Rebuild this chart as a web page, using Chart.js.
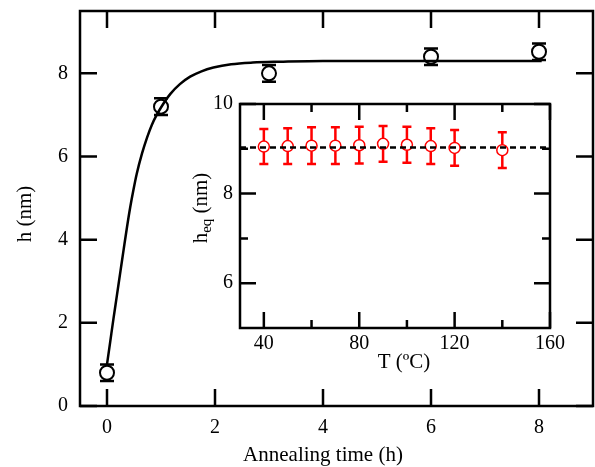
<!DOCTYPE html>
<html>
<head>
<meta charset="utf-8">
<script src="https://cdn.jsdelivr.net/npm/chart.js@4.4.0/dist/chart.umd.min.js"></script>
<style>
body { margin: 0; background: #fff; }
#wrap { position: relative; width: 595px; height: 467px; }
#main { position: absolute; left: 0; top: 0; }
#inset { position: absolute; left: 180px; top: 92px; }
</style>
</head>
<body>
<div id="wrap">
<canvas id="main" width="595" height="467"></canvas>
<canvas id="inset" width="400" height="288"></canvas>
</div>
<script>
// main panel: film height vs annealing time
const timeH = [0, 1, 3, 6, 8];
const heightNm = [0.8, 7.2, 8.0, 8.4, 8.52];
const heightErr = [0.2, 0.2, 0.2, 0.2, 0.2];

// fitted curve, points
const fitT = [0, 0.06, 0.12, 0.18, 0.25, 0.31, 0.37, 0.43, 0.49, 0.55, 0.65, 0.74, 0.83, 0.92, 1.0, 1.17, 1.35, 1.54, 1.75, 1.97, 2.3, 2.7, 3.2, 4, 5, 6, 7, 8.05];
const fitH = [1.0, 1.55, 2.1, 2.63, 3.25, 3.78, 4.3, 4.78, 5.2, 5.58, 6.08, 6.45, 6.76, 7.0, 7.18, 7.5, 7.74, 7.92, 8.05, 8.14, 8.22, 8.26, 8.28, 8.3, 8.3, 8.3, 8.3, 8.3];

const timeTicks = [0, 2, 4, 6, 8];
const hTicks = [0, 2, 4, 6, 8];

// inset: equilibrium height vs temperature
const tempC = [40, 50, 60, 70, 80, 90, 100, 110, 120, 140];
const heq = [9.05, 9.06, 9.07, 9.07, 9.08, 9.11, 9.09, 9.06, 9.02, 8.97];
const heqErr = [0.39, 0.40, 0.41, 0.41, 0.41, 0.40, 0.40, 0.40, 0.40, 0.40];
const heqLevel = 9.03;

const tempTicks = [40, 80, 120, 160];
const tempMinor = [60, 100, 140];
const heqTicks = [6, 8, 10];
const heqMinor = [7, 9];

const serif = "'Liberation Serif', 'Times New Roman', serif";
Chart.defaults.font.family = serif;
Chart.defaults.color = '#000';

// box around the plot with inward ticks on all four sides
const framePlugin = {
    id: 'frame',
    afterDatasetsDraw(chart, args, o) {
        const ctx = chart.ctx, a = chart.chartArea;
        const x = chart.scales.x, y = chart.scales.y;
        ctx.save();
        ctx.strokeStyle = '#000';
        ctx.lineWidth = o.width;
        ctx.beginPath();
        const xt = (vals, len) => vals.forEach(v => {
            const px = x.getPixelForValue(v);
            ctx.moveTo(px, a.bottom); ctx.lineTo(px, a.bottom - len);
            ctx.moveTo(px, a.top); ctx.lineTo(px, a.top + len);
        });
        const yt = (vals, len) => vals.forEach(v => {
            const py = y.getPixelForValue(v);
            ctx.moveTo(a.left, py); ctx.lineTo(a.left + len, py);
            ctx.moveTo(a.right, py); ctx.lineTo(a.right - len, py);
        });
        xt(o.xMajor, o.major);
        xt(o.xMinor || [], o.minor);
        yt(o.yMajor, o.major);
        yt(o.yMinor || [], o.minor);
        ctx.stroke();
        ctx.strokeRect(a.left, a.top, a.right - a.left, a.bottom - a.top);
        ctx.restore();
    }
};

// vertical error bars with caps, starting at the circle edge
const errPlugin = {
    id: 'errBars',
    afterDatasetsDraw(chart) {
        const ctx = chart.ctx, x = chart.scales.x, y = chart.scales.y;
        chart.data.datasets.forEach(ds => {
            if (!ds.errors) return;
            ctx.save();
            ctx.strokeStyle = ds.borderColor;
            ctx.lineWidth = ds.errWidth;
            ctx.beginPath();
            ds.data.forEach((p, i) => {
                const px = x.getPixelForValue(p.x);
                const pc = y.getPixelForValue(p.y);
                const pt = y.getPixelForValue(p.y + ds.errors[i]);
                const pb = y.getPixelForValue(p.y - ds.errors[i]);
                const r = ds.pointRadius;
                if (pc - r > pt) { ctx.moveTo(px, pc - r); ctx.lineTo(px, pt); }
                if (pc + r < pb) { ctx.moveTo(px, pc + r); ctx.lineTo(px, pb); }
                ctx.moveTo(px - ds.errCap, pt); ctx.lineTo(px + ds.errCap, pt);
                ctx.moveTo(px - ds.errCap, pb); ctx.lineTo(px + ds.errCap, pb);
            });
            ctx.stroke();
            ctx.restore();
        });
    }
};

// main axis titles, placed where the figure has them
const mainTitles = {
    id: 'mainTitles',
    afterDraw(chart) {
        const ctx = chart.ctx;
        ctx.save();
        ctx.fillStyle = '#000';
        ctx.font = '21px ' + serif;
        ctx.textAlign = 'center';
        ctx.textBaseline = 'middle';
        ctx.fillText('Annealing time (h)', 323, 455);
        ctx.translate(25, 214);
        ctx.rotate(-Math.PI / 2);
        ctx.fillText('h (nm)', 0, 0);
        ctx.restore();
    }
};

// inset axis titles (y one has a subscript)
const insetTitles = {
    id: 'insetTitles',
    afterDraw(chart) {
        const ctx = chart.ctx;
        const big = '21px ' + serif, small = '15px ' + serif;
        ctx.save();
        ctx.fillStyle = '#000';
        ctx.textBaseline = 'middle';
        ctx.textAlign = 'center';
        ctx.font = big;
        ctx.fillText('T (ºC)', 224, 270);

        ctx.textAlign = 'left';
        ctx.textBaseline = 'alphabetic';
        const w1 = ctx.measureText('h').width;
        const w3 = ctx.measureText(' (nm)').width;
        ctx.font = small;
        const w2 = ctx.measureText('eq').width;
        const total = w1 + w2 + w3;
        ctx.translate(27, 116 + total / 2);
        ctx.rotate(-Math.PI / 2);
        ctx.font = big;
        ctx.fillText('h', 0, 0);
        ctx.font = small;
        ctx.fillText('eq', w1, 4);
        ctx.font = big;
        ctx.fillText(' (nm)', w1 + w2, 0);
        ctx.restore();
    }
};

function fit(size, horizontal) {
    return s => {
        if (horizontal) s.height = size; else s.width = size;
        s.paddingLeft = 0; s.paddingRight = 0;
        s.paddingTop = 0; s.paddingBottom = 0;
    };
}

function setTicks(vals) {
    return s => { s.ticks = vals.map(v => ({ value: v })); };
}

new Chart(document.getElementById('main'), {
    type: 'scatter',
    data: {
        datasets: [
            {
                type: 'line',
                data: fitT.map((t, i) => ({ x: t, y: fitH[i] })),
                borderColor: '#000',
                borderWidth: 2.5,
                pointRadius: 0,
                cubicInterpolationMode: 'monotone',
                fill: false
            },
            {
                data: timeH.map((t, i) => ({ x: t, y: heightNm[i] })),
                errors: heightErr,
                errCap: 7,
                errWidth: 2.5,
                pointRadius: 7,
                borderWidth: 2,
                borderColor: '#000',
                backgroundColor: 'rgba(0,0,0,0)'
            }
        ]
    },
    options: {
        responsive: false,
        animation: false,
        layout: { autoPadding: false, padding: { left: 0, top: 11, right: 2, bottom: 0 } },
        plugins: {
            legend: { display: false },
            tooltip: { enabled: false },
            frame: { xMajor: timeTicks, yMajor: hTicks, major: 17, minor: 9, width: 2.5 }
        },
        scales: {
            x: {
                type: 'linear',
                min: -0.5,
                max: 9,
                grid: { display: false, drawTicks: false },
                border: { display: false },
                ticks: { padding: 10, font: { size: 20 } },
                afterBuildTicks: setTicks(timeTicks),
                afterFit: fit(61, true)
            },
            y: {
                min: 0,
                max: 9.5,
                grid: { display: false, drawTicks: false },
                border: { display: false },
                ticks: { padding: 12, font: { size: 20 } },
                afterBuildTicks: setTicks(hTicks),
                afterFit: fit(80, false)
            }
        }
    },
    plugins: [framePlugin, errPlugin, mainTitles]
});

new Chart(document.getElementById('inset'), {
    type: 'scatter',
    data: {
        datasets: [
            {
                type: 'line',
                data: [{ x: 30, y: heqLevel }, { x: 160, y: heqLevel }],
                borderColor: '#000',
                borderWidth: 2.5,
                borderDash: [6, 4],
                pointRadius: 0,
                fill: false
            },
            {
                data: tempC.map((t, i) => ({ x: t, y: heq[i] })),
                errors: heqErr,
                errCap: 4.5,
                errWidth: 2.5,
                pointRadius: 5.5,
                borderWidth: 1.5,
                borderColor: '#ff0000',
                backgroundColor: 'rgba(0,0,0,0)'
            }
        ]
    },
    options: {
        responsive: false,
        animation: false,
        layout: { autoPadding: false, padding: { left: 0, top: 12, right: 30, bottom: 0 } },
        plugins: {
            legend: { display: false },
            tooltip: { enabled: false },
            frame: {
                xMajor: tempTicks, xMinor: tempMinor,
                yMajor: heqTicks, yMinor: heqMinor,
                major: 16, minor: 8, width: 2.5
            }
        },
        scales: {
            x: {
                type: 'linear',
                min: 30,
                max: 160,
                grid: { display: false, drawTicks: false },
                border: { display: false },
                ticks: { padding: 4, font: { size: 20 } },
                afterBuildTicks: setTicks(tempTicks),
                afterFit: fit(52, true)
            },
            y: {
                min: 5,
                max: 10,
                grid: { display: false, drawTicks: false },
                border: { display: false },
                ticks: { padding: 7, font: { size: 20 } },
                afterBuildTicks: setTicks(heqTicks),
                afterFit: fit(60, false)
            }
        }
    },
    plugins: [framePlugin, errPlugin, insetTitles]
});
</script>
</body>
</html>
